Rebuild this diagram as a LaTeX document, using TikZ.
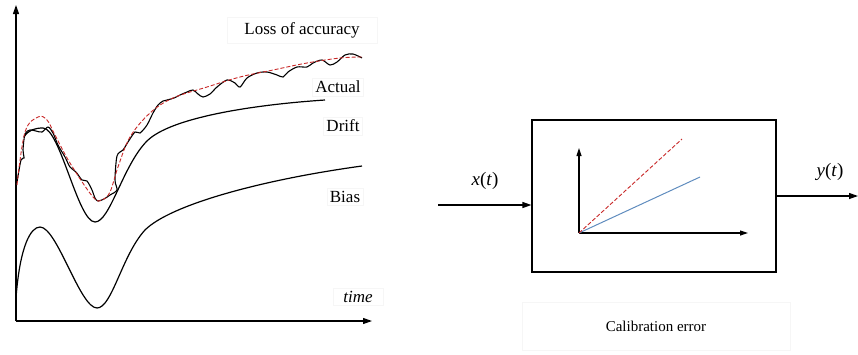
\documentclass[tikz,border=0pt]{standalone}
\usepackage{fontspec}
\setmainfont{Liberation Serif}
\usetikzlibrary{arrows.meta}
\definecolor{lblue}{RGB}{95,140,190}
\definecolor{dred}{RGB}{200,40,40}
\begin{document}
\begin{tikzpicture}[x=1pt,y=-1pt,
  lbl/.style={font=\fontsize{17}{19}\selectfont, draw=gray!7, line width=0.6pt, inner sep=3pt},
  curve/.style={line width=1.2pt, black},
  axis/.style={line width=1.1pt, -{Triangle[length=9pt,width=6pt]}},
  redd/.style={line width=0.9pt, dred, dash pattern=on 4pt off 2pt}]
\useasboundingbox (0,0) rectangle (858,354);
% left axes
\coordinate (O) at (16,321);
\coordinate (Ytop) at (16,5);
\coordinate (Xend) at (372,321);
\draw[axis] (O) -- (Ytop);
\draw[axis] (O) -- (Xend);
% labels
\node[lbl, minimum width=150pt, minimum height=26pt] (loss) at (302,30) {Loss of accuracy};
\node[lbl] (actual) at (338,87) {Actual};
\node[lbl] (drift) at (343,126) {Drift};
\node[lbl] (bias) at (345,197) {Bias};
\node[lbl, minimum width=50pt] (time) at (358,297) {\textit{time}};
% bias curve
\draw[curve] (16,298) .. controls (20,245) and (31,227) .. (40,227)
  .. controls (57,227) and (80,308) .. (97,308)
  .. controls (112,308) and (122,255) .. (145,230)
  .. controls (170,205) and (260,180) .. (362,166);
% drift curve
\draw[curve] (24,137) .. controls (28,130) and (35,128) .. (43,128)
  .. controls (60,128) and (78,222) .. (95,222)
  .. controls (110,222) and (123,165) .. (147,141)
  .. controls (170,118) and (250,105) .. (325,100);
% actual noisy curve
\draw[line width=1.1pt] plot[smooth, tension=0.5] coordinates {(17,182) (21,160) (24,158) (23,150) (25,134) (30,130) (36,131) (42,132) (48,127) (53,133) (58,145) (65,157) (70,167) (76,172) (82,180) (87,181) (92,190) (95,198) (98,201) (104,199) (110,195) (117,190) (115,180) (117,156) (123,150) (128,142) (135,132) (140,133) (147,125) (153,113) (158,105) (163,101) (167,100) (174,98) (180,95) (187,92) (193,90) (198,94) (203,97) (210,94) (217,87) (227,80) (235,83) (240,87) (247,78) (257,73) (267,72) (277,75) (283,77) (288,72) (297,67) (307,67) (313,63) (322,60) (330,65) (337,62) (345,55) (353,54) (362,58)};
% red dashed
\draw[redd] plot[smooth, tension=0.6] coordinates {(17,185) (25,132) (38,117) (47,120) (55,135) (70,163) (93,197) (102,200) (110,192) (118,167) (130,137) (150,113) (173,98) (207,87) (240,77) (273,70) (307,63) (340,58) (362,57)};
% right part
\node[draw, line width=1.2pt, minimum width=244pt, minimum height=152pt, inner sep=0pt] (box) at (654,196) {};
\coordinate (xin) at (438,205);
\coordinate (yout) at (858,196);
\draw[line width=1.2pt, -{Triangle[length=9pt,width=6pt]}] (xin) -- (xin -| box.west);
\draw[line width=1.2pt, -{Triangle[length=9pt,width=6pt]}] (yout -| box.east) -- (yout);
\node[font=\fontsize{19}{21}\selectfont] (xt) at (485,181) {\textit{x}(\textit{t})};
\node[font=\fontsize{19}{21}\selectfont] (yt) at (830,172) {\textit{y}(\textit{t})};
% inner plot
\coordinate (o2) at (579,233);
\coordinate (v2) at (579,148);
\coordinate (h2) at (748,233);
\coordinate (r2) at (682,139);
\coordinate (b2) at (700,177);
\draw[line width=1.1pt, -{Triangle[length=8pt,width=5pt]}] (o2) -- (v2);
\draw[line width=1.1pt, -{Triangle[length=8pt,width=5pt]}] (o2) -- (h2);
\draw[line width=1pt, lblue] (o2) -- (b2);
\draw[redd] (o2) -- (r2);
\node[lbl, minimum width=268pt, minimum height=48pt, font=\fontsize{15}{17}\selectfont] (cal) at (656,326) {Calibration error};
\end{tikzpicture}
\end{document}
